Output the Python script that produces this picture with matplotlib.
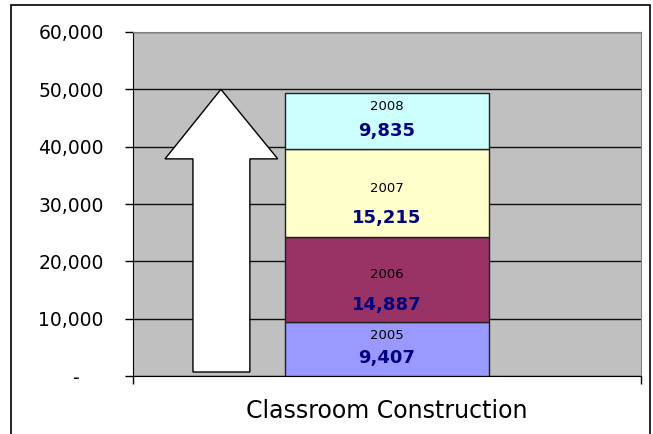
import matplotlib
matplotlib.use("Agg")
import matplotlib.pyplot as plt
from matplotlib.patches import Polygon, Rectangle
from matplotlib.ticker import FuncFormatter

# -------------------------
# Data
# -------------------------
years = ["2005", "2006", "2007", "2008"]
values = [9407, 14887, 15215, 9835]
category = "Classroom Construction"

colors = ["#9999FF", "#993366", "#FFFFCC", "#CCFFFF"]

# where the two label lines sit inside each segment (fraction of its height)
year_frac = [0.76, 0.56, 0.55, 0.77]
value_frac = [0.33, 0.20, 0.22, 0.33]

# decorative arrow, in axis units (x) and chart units (y)
arrow_x = [-0.382, -0.270, -0.215, -0.327, -0.437]
arrow_y = [700, 37870, 50000]

# -------------------------
# Plot
# -------------------------
plt.rcParams["font.family"] = ["DejaVu Sans"]

fig = plt.figure(figsize=(6.53, 4.34), dpi=100)
ax = fig.add_axes([0.2037, 0.1336, 0.7779, 0.7927])
ax.set_facecolor("#C0C0C0")

ax.set_xlim(-0.5, 0.5)
ax.set_ylim(0, 60000)
ax.set_yticks(range(0, 60001, 10000))
ax.yaxis.set_major_formatter(
    FuncFormatter(lambda v, p: "-    " if v == 0 else f"{v:,.0f}")
)
ax.tick_params(axis="y", length=6, width=1, pad=15, labelsize=13.5)
ax.set_xticks([-0.5, 0.5])
ax.set_xticklabels([])
ax.tick_params(axis="x", length=6, width=1, direction="out")

ax.grid(axis="y", color="#101010", linewidth=1)
ax.set_axisbelow(True)
for side in ["top", "right"]:
    ax.spines[side].set_color("#808080")
ax.spines["left"].set_color("black")
ax.spines["bottom"].set_color("black")

# arrow
sl, sr, hr, tip, hl = arrow_x
y0, yb, yt = arrow_y
ax.add_patch(Polygon(
    [(sl, y0), (sr, y0), (sr, yb), (hr, yb), (tip, yt), (hl, yb), (sl, yb)],
    closed=True, facecolor="white", edgecolor="black", linewidth=1, zorder=3,
))

# stacked bar
bottom = 0
for i, (yr, v) in enumerate(zip(years, values)):
    ax.bar(0, v, width=0.4, bottom=bottom, color=colors[i],
           edgecolor="#202020", linewidth=1, zorder=3)
    ax.text(0, bottom + v * year_frac[i], yr, ha="center", va="center",
            fontsize=9.5, color="black", zorder=4)
    ax.text(0, bottom + v * value_frac[i], f"{v:,}", ha="center", va="center",
            fontsize=13, fontweight="bold", color="#000080", zorder=4)
    bottom += v

ax.set_xlabel(category, fontsize=17, labelpad=7)

# chart border
fig.patches.append(Rectangle((11 / 653, -0.05), 639 / 653, 1.05 - 5 / 434,
                             transform=fig.transFigure, fill=False,
                             edgecolor="black", linewidth=1.2))

fig.savefig("out.png", dpi=100)
plt.close(fig)
